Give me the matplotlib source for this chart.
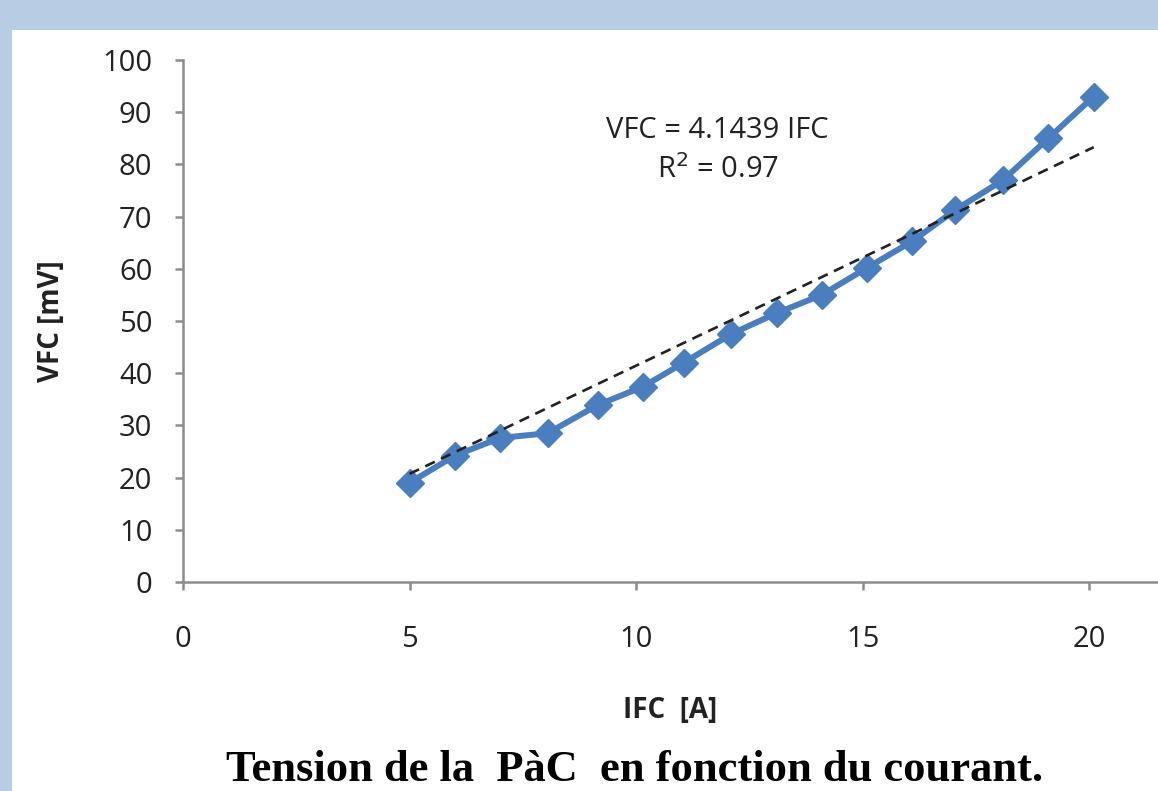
import numpy as np
import matplotlib
matplotlib.use("Agg")
import matplotlib.pyplot as plt

# data
ifc = [5.0, 6.0, 7.0, 8.05, 9.15, 10.15, 11.05, 12.1, 13.1, 14.1, 15.1, 16.1, 17.05, 18.1, 19.1, 20.1]
vfc = [19.0, 24.2, 27.6, 28.5, 33.9, 37.4, 42.0, 47.5, 51.5, 55.0, 60.2, 65.3, 71.3, 77.0, 85.0, 93.0]
slope = 4.1439
r2 = 0.97
x_ticks = [0, 5, 10, 15, 20]
y_ticks = [0, 10, 20, 30, 40, 50, 60, 70, 80, 90, 100]

plt.rcParams["font.family"] = ["Open Sans", "DejaVu Sans"]

fig = plt.figure(figsize=(11.58, 7.91), dpi=100)
fig.patch.set_facecolor("#B8CCE4")
# white panel inside the blue frame
panel = fig.add_axes([12/1158, 0, 1 - 12/1158, 1 - 30/791])
panel.set_facecolor("white")
panel.set_xticks([])
panel.set_yticks([])
for s in panel.spines.values():
    s.set_visible(False)

ax = fig.add_axes([183/1158, 1 - 582/791, 1 - 183/1158, (582 - 60)/791])
ax.patch.set_alpha(0)

# trend line
xt = np.array([ifc[0], ifc[-1]])
ax.plot(xt, slope * xt, linestyle=(0, (4, 2.6)), color="#222222", lw=1.9, zorder=3)

ax.plot(ifc, vfc, color="#4A7EBF", lw=4.3, marker="D", markersize=14, zorder=2)

ax.set_xlim(0, 21.52)
ax.set_ylim(0, 100)
ax.set_xticks(x_ticks)
ax.set_yticks(y_ticks)
ax.spines["top"].set_visible(False)
ax.spines["right"].set_visible(False)
for s in ["left", "bottom"]:
    ax.spines[s].set_color("#8C8C8C")
    ax.spines[s].set_linewidth(1.8)
ax.tick_params(axis="both", colors="#8C8C8C", length=6, width=1.8, labelsize=21, labelcolor="#222222")
ax.tick_params(axis="x", pad=25)
ax.tick_params(axis="y", pad=16)

ax.set_xlabel("IFC  [A]", fontsize=20, fontweight="bold", color="#222222", labelpad=30)
ax.set_ylabel("VFC [mV]", fontsize=20, fontweight="bold", color="#222222", labelpad=26)

ax.text(11.8, 86.5, "VFC = 4.1439 IFC", ha="center", va="center", fontsize=21, color="#222222")
ax.text(11.8, 79.0, "R$^2$ = 0.97", ha="center", va="center", fontsize=21, color="#222222")

fig.text(635/1158, 1 - 770/791, "Tension de la  PàC  en fonction du courant.",
         ha="center", va="center", fontsize=32, fontweight="bold",
         family=["Liberation Serif", "DejaVu Serif"], color="black")

fig.savefig("out.png", dpi=100)
